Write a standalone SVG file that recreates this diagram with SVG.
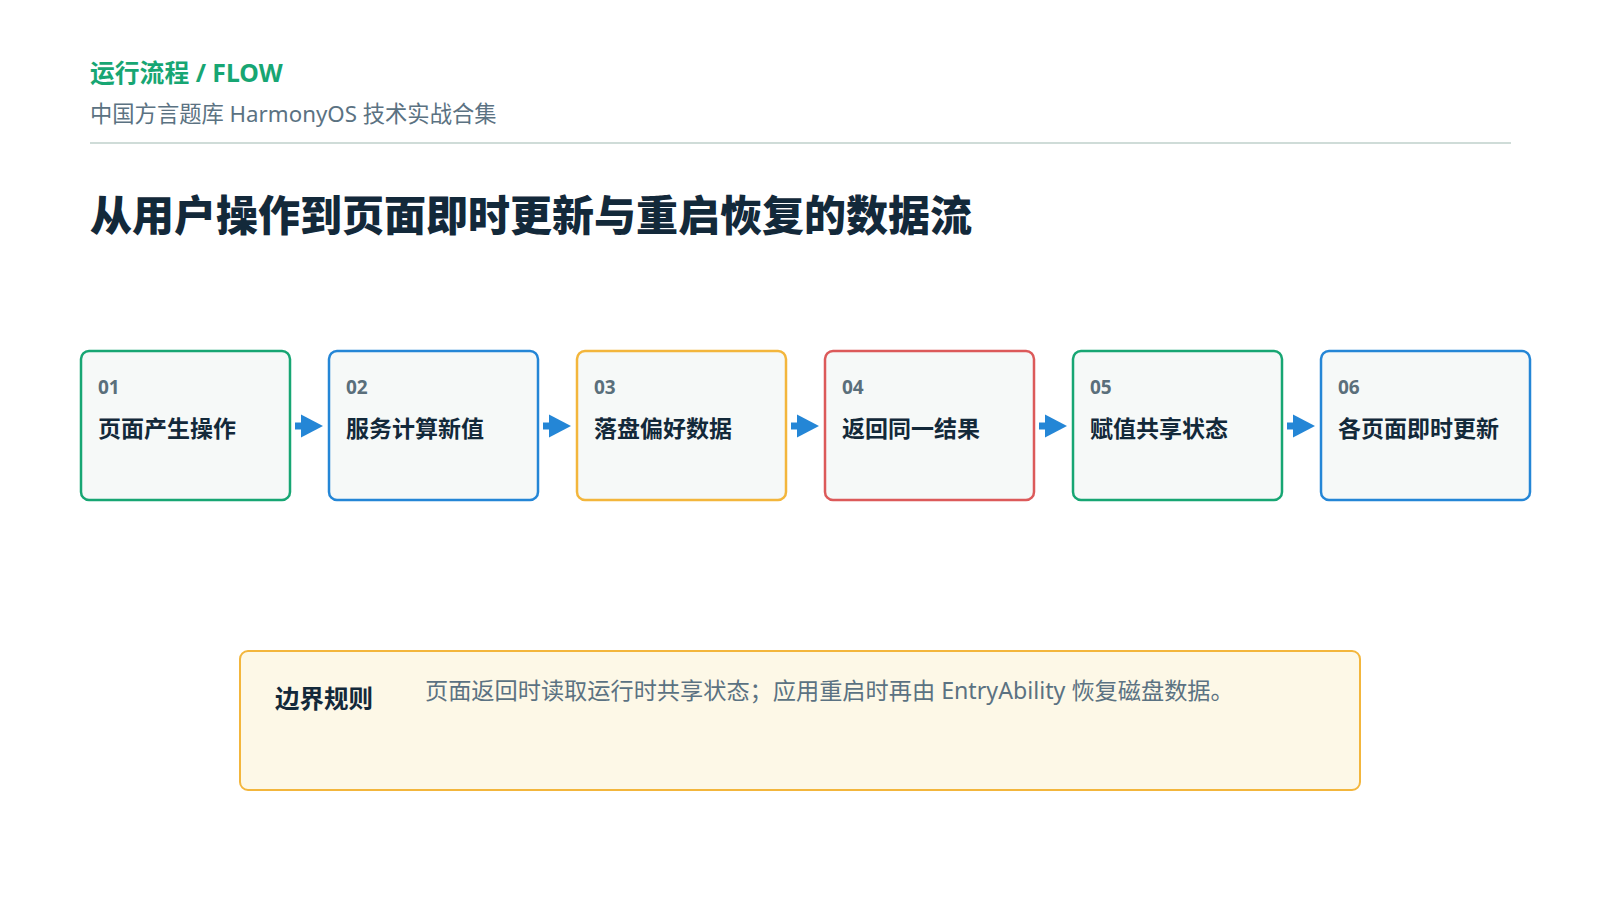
<svg xmlns="http://www.w3.org/2000/svg" width="1600" height="900" viewBox="0 0 1600 900">
  <defs>
    <style>
      text { font-family: "Noto Sans", "Noto Sans CJK SC", sans-serif; }
      .kicker { font-size: 24.8px; font-weight: 700; fill: #17a673; }
      .sub { font-size: 22.3px; fill: #5b7282; }
      .title { font-size: 42px; font-weight: 900; fill: #13293a; }
      .box { fill: #f6f9f8; stroke-width: 2.5; }
      .num { font-size: 19px; font-weight: 700; fill: #5a6f7b; }
      .lbl { font-size: 23px; font-weight: 700; fill: #13293a; }
      .green { stroke: #17a673; }
      .blue { stroke: #2486d6; }
      .orange { stroke: #f3b63c; }
      .red { stroke: #dc5a5a; }
      .conn { stroke: #2486d6; stroke-width: 7; fill: none; marker-end: url(#arrow); }
      .note { fill: #fdf8e7; stroke: #f3b63c; stroke-width: 2; }
      .noteh { font-size: 24.5px; font-weight: 700; fill: #13293a; }
      .notet { font-size: 23.2px; fill: #5b7282; }
    </style>
    <marker id="arrow" markerUnits="userSpaceOnUse" markerWidth="22" markerHeight="24" viewBox="0 0 21 22" refX="0" refY="11" orient="auto">
      <path d="M0,0 L21,11 L0,22 Z" fill="#2486d6"/>
    </marker>
  </defs>
  <rect width="1600" height="900" fill="#ffffff"/>

  <g id="header">
    <text class="kicker" x="90" y="82">运行流程 / FLOW</text>
    <text class="sub" x="90" y="122">中国方言题库 HarmonyOS 技术实战合集</text>
    <line x1="90" y1="143" x2="1511" y2="143" stroke="#cfdcd8" stroke-width="2"/>
    <text class="title" x="90" y="231">从用户操作到页面即时更新与重启恢复的数据流</text>
  </g>

  <g id="connectors">
    <line class="conn" x1="295" y1="426" x2="301" y2="426"/>
    <line class="conn" x1="543" y1="426" x2="549" y2="426"/>
    <line class="conn" x1="791" y1="426" x2="797" y2="426"/>
    <line class="conn" x1="1039" y1="426" x2="1045" y2="426"/>
    <line class="conn" x1="1287" y1="426" x2="1293" y2="426"/>
  </g>

  <g id="step01">
    <rect class="box green" x="81" y="351" width="209" height="149" rx="8"/>
    <text class="num" x="98" y="394">01</text>
    <text class="lbl" x="98" y="437">页面产生操作</text>
  </g>
  <g id="step02">
    <rect class="box blue" x="329" y="351" width="209" height="149" rx="8"/>
    <text class="num" x="346" y="394">02</text>
    <text class="lbl" x="346" y="437">服务计算新值</text>
  </g>
  <g id="step03">
    <rect class="box orange" x="577" y="351" width="209" height="149" rx="8"/>
    <text class="num" x="594" y="394">03</text>
    <text class="lbl" x="594" y="437">落盘偏好数据</text>
  </g>
  <g id="step04">
    <rect class="box red" x="825" y="351" width="209" height="149" rx="8"/>
    <text class="num" x="842" y="394">04</text>
    <text class="lbl" x="842" y="437">返回同一结果</text>
  </g>
  <g id="step05">
    <rect class="box green" x="1073" y="351" width="209" height="149" rx="8"/>
    <text class="num" x="1090" y="394">05</text>
    <text class="lbl" x="1090" y="437">赋值共享状态</text>
  </g>
  <g id="step06">
    <rect class="box blue" x="1321" y="351" width="209" height="149" rx="8"/>
    <text class="num" x="1338" y="394">06</text>
    <text class="lbl" x="1338" y="437">各页面即时更新</text>
  </g>

  <g id="boundary-rule">
    <rect class="note" x="240" y="651" width="1120" height="139" rx="8"/>
    <text class="noteh" x="275" y="708">边界规则</text>
    <text class="notet" x="425" y="699">页面返回时读取运行时共享状态；应用重启时再由 EntryAbility 恢复磁盘数据。</text>
  </g>
</svg>
